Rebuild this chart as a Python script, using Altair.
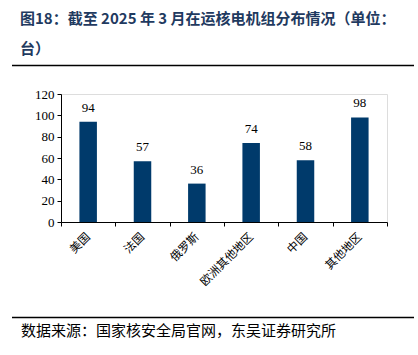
import altair as alt
import pandas as pd

categories = ["美国", "法国", "俄罗斯", "欧洲其他地区", "中国", "其他地区"]
values = [94, 57, 36, 74, 58, 98]
y_ticks = [0, 20, 40, 60, 80, 100, 120]
title_line1 = "图18：截至 2025 年 3 月在运核电机组分布情况（单位："
title_line2 = "台）"
source_text = "数据来源：国家核安全局官网，东吴证券研究所"

df = pd.DataFrame({"region": categories, "count": values})

W, H = 326, 128
LEFT, TOP = 61, 94

base = alt.Chart(df)

x_enc = alt.X("region:N", sort=categories,
              scale=alt.Scale(paddingInner=0, paddingOuter=0),
              axis=alt.Axis(title=None, labelAngle=-45, labelAlign="right",
                            labelBaseline="middle", tickBand="extent",
                            labelFont="Noto Sans CJK SC", labelFontSize=11.5,
                            labelColor="#000000", domainColor="#000000",
                            tickColor="#000000", tickSize=4, labelPadding=9,
                            labelOverlap=False))
y_enc = alt.Y("count:Q", scale=alt.Scale(domain=[0, 120]),
              axis=alt.Axis(title=None, values=y_ticks, tickCount=7,
                            grid=False, labelFont="Liberation Serif",
                            labelFontSize=13, labelColor="#000000",
                            domainColor="#000000", tickColor="#000000",
                            tickSize=4, labelPadding=3, labelOverlap=False))

bars = base.mark_bar(size=17.5, color="#003A6B").encode(x=x_enc, y=y_enc)
labels = base.mark_text(dy=-14, font="Liberation Serif", fontSize=13,
                        color="#000000").encode(
    x=x_enc, y=y_enc, text="count:Q")

tdf = pd.DataFrame({"a": [title_line1], "b": [title_line2], "s": [source_text]})
title_style = dict(align="left", baseline="middle", font="Noto Sans CJK SC",
                   fontWeight="bold", fontSize=15, color="#1F3A60")
title1 = alt.Chart(tdf).mark_text(**title_style).encode(
    x=alt.value(20 - LEFT), y=alt.value(19 - TOP), text="a:N")
title2 = alt.Chart(tdf).mark_text(**title_style).encode(
    x=alt.value(20 - LEFT), y=alt.value(49 - TOP), text="b:N")

source = alt.Chart(tdf).mark_text(align="left", baseline="middle",
                                  font="Noto Sans CJK SC", fontSize=15,
                                  color="#000000").encode(
    x=alt.value(21 - LEFT), y=alt.value(331 - TOP), text="s:N")

rule_top = alt.Chart(tdf).mark_rule(color="#000000", strokeWidth=1.5).encode(
    x=alt.value(12 - LEFT), x2=alt.value(414 - LEFT), y=alt.value(65.5 - TOP))
rule_bot = alt.Chart(tdf).mark_rule(color="#000000", strokeWidth=1.5).encode(
    x=alt.value(12 - LEFT), x2=alt.value(414 - LEFT), y=alt.value(317.5 - TOP))

chart = alt.layer(bars, labels, title1, title2, source, rule_top, rule_bot).properties(
    width=W, height=H,
    autosize=alt.AutoSizeParams(type="none"),
    padding={"left": LEFT, "top": TOP, "right": 418 - LEFT - W, "bottom": 355 - TOP - H},
).configure_view(stroke=None).configure(background="#ffffff")

chart.save("out.html", embed_options={"renderer": "svg", "actions": False})
